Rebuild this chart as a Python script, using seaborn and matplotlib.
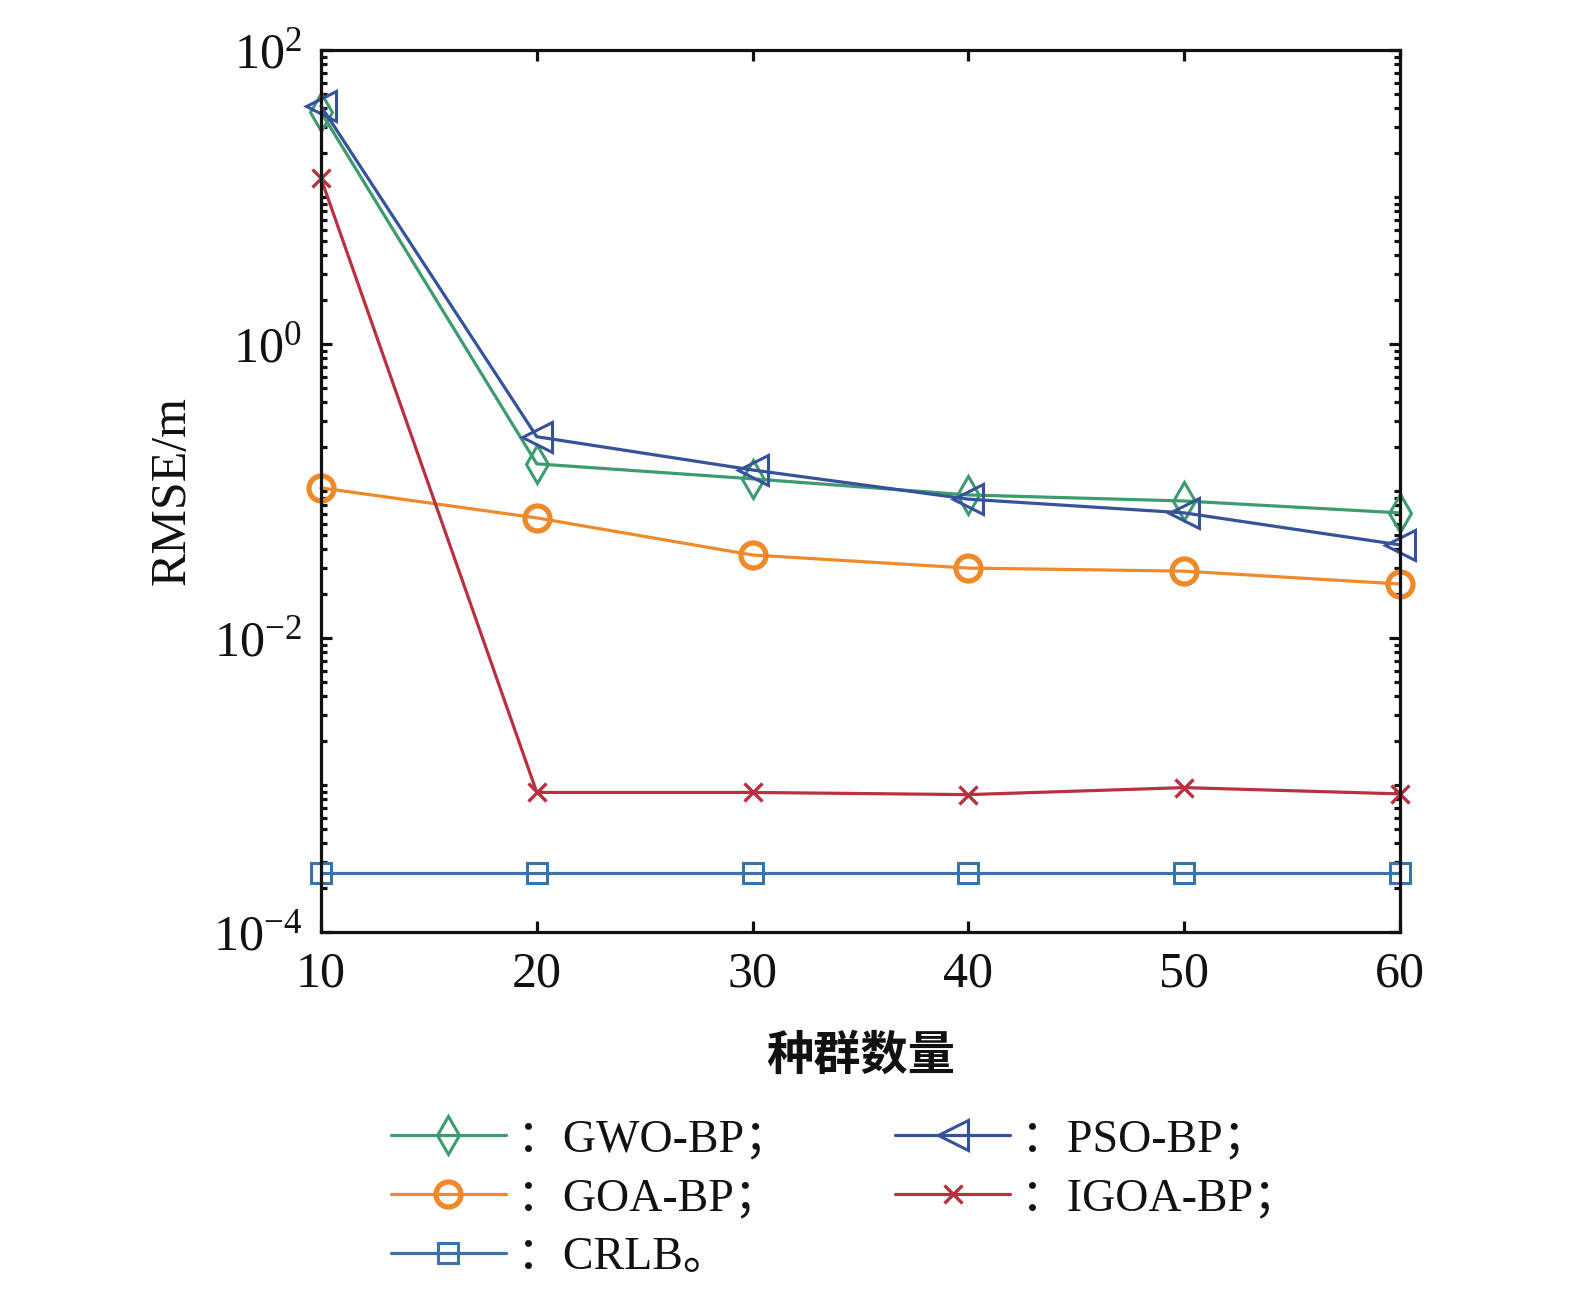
import numpy as np
import pandas as pd
import seaborn as sns
import matplotlib.pyplot as plt
from matplotlib.ticker import FixedLocator, LogLocator, NullFormatter
from matplotlib.font_manager import FontProperties

# 数据
pop = [10, 20, 30, 40, 50, 60]
gwo = [37.8, 0.153, 0.121, 0.094, 0.0855, 0.071]
pso = [41.5, 0.234, 0.139, 0.088, 0.071, 0.043]
goa = [0.105, 0.0656, 0.0367, 0.0299, 0.0285, 0.0233]
igoa = [13.4, 8.9e-4, 8.9e-4, 8.6e-4, 9.6e-4, 8.7e-4]
crlb = [2.53e-4, 2.53e-4, 2.53e-4, 2.53e-4, 2.53e-4, 2.53e-4]

labels = ["：GWO-BP；", "：PSO-BP；", "：GOA-BP；", "：IGOA-BP；", "：CRLB。"]

sns.set_theme(style="ticks")
plt.rcParams['font.family'] = ['Liberation Serif', 'Noto Sans CJK SC', 'DejaVu Sans']
plt.rcParams['mathtext.fontset'] = 'stix'
for k in ['text.color', 'axes.labelcolor', 'xtick.color', 'ytick.color', 'axes.edgecolor']:
    plt.rcParams[k] = '#111111'

fig = plt.figure(figsize=(15.75, 12.89), dpi=100)
ax = fig.add_axes([321 / 1575, 1 - 932 / 1289, (1400 - 321) / 1575, (932 - 50) / 1289])

# 各条曲线：(数据, 颜色, 标记, 标记大小, 边线宽)
series = [
    (gwo, "#3d9b6f", "d", 19, 2.2),
    (pso, "#35529b", "<", 22, 2.2),
    (goa, "#f0892a", "o", 18, 3.8),
    (igoa, "#b93041", "x", 13, 2.4),
    (crlb, "#3a72ab", "s", 14, 2.2),
]
for (vals, c, m, ms, mew), lab in zip(series, labels):
    sns.lineplot(x=pop, y=vals, ax=ax, color=c, marker=m, markersize=ms,
                 markerfacecolor="none", markeredgecolor=c, markeredgewidth=mew,
                 linewidth=2.3, label=lab, clip_on=False)

ax.set_yscale("log")
ax.set_xlim(10, 60)
ax.set_ylim(1e-4, 1e2)
ax.set_xticks(pop)
ax.yaxis.set_major_locator(FixedLocator([1e-4, 1e-2, 1e0, 1e2]))
ax.yaxis.set_minor_locator(LogLocator(base=10, subs=np.arange(1, 10), numticks=100))
ax.yaxis.set_minor_formatter(NullFormatter())

for s in ax.spines.values():
    s.set_linewidth(2.3)
ax.tick_params(which="both", direction="in", top=True, right=True, width=2.3)
ax.tick_params(which="major", length=8, labelsize=36, pad=14)
ax.tick_params(which="minor", length=4.5)

ax.set_ylabel("RMSE/m", fontsize=36, labelpad=12)
ax.set_xlabel("种群数量", fontsize=34, fontweight="bold",
              family=['Noto Sans CJK SC'], labelpad=24)

h, l = ax.get_legend_handles_labels()
order = [0, 2, 4, 1, 3]
ax.legend([h[i] for i in order], [l[i] for i in order], ncol=2, frameon=False,
          loc="upper left", bbox_to_anchor=(368 / 1575, 1 - 1096 / 1289),
          bbox_transform=fig.transFigure, borderpad=0, handlelength=2.5,
          handletextpad=0.25, columnspacing=2.3, labelspacing=0.36,
          prop=FontProperties(family=['Liberation Serif', 'Noto Sans CJK SC'], size=33))

fig.savefig("out.png", dpi=100)
